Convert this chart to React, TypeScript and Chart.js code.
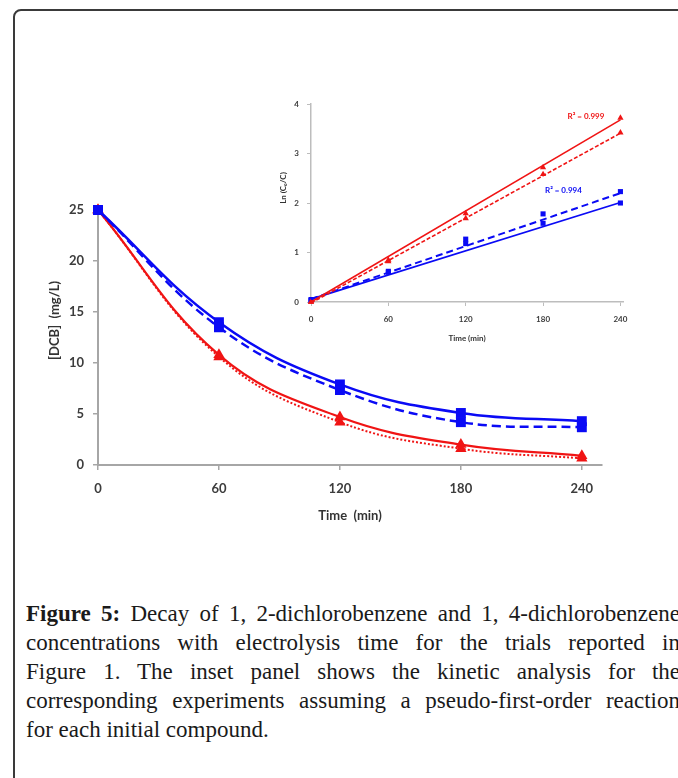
import React, { useEffect, useRef } from 'react';
import { Chart, registerables } from 'chart.js';

Chart.register(...registerables);

// ---------- DATA ----------
const timeMin = [0, 60, 120, 180, 240];
const mainXTicks = [0, 60, 120, 180, 240];

// Main panel: [DCB] (mg/L)
const blueSolidConc = [25, 14.0, 7.9, 5.1, 4.3];
const blueDashedConc = [25, 13.5, 7.35, 4.2, 3.7];
const redSolidConc = [25, 10.8, 4.7, 2.0, 0.9];
const redDottedConc = [25, 10.6, 4.2, 1.6, 0.65];

// Inset panel: Ln(C0/C)
const insetXTicks = [0, 60, 120, 180, 240];
const redLnA = [0, 0.85, 1.79, 2.72, 3.72];
const redLnB = [0, 0.82, 1.69, 2.58, 3.42];
const blueLnA = [0.05, 0.6, 1.18, 1.59, 2.0];
const blueLnB = [0.03, 0.62, 1.27, 1.78, 2.23];

// Linear fits (start / end of each regression line)
const fitTimes = [0, 240];
const fitRedSolid = [0, 3.68];
const fitRedDotted = [-0.02, 3.41];
const fitBlueSolid = [0.06, 2.01];
const fitBlueDashed = [0.06, 2.2];

const r2Texts = ['R\u00B2 = 0.999', 'R\u00B2 = 0.994'];

const captionLines = [
  'Decay of 1, 2-dichlorobenzene and 1, 4-dichlorobenzene',
  'concentrations with electrolysis time for the trials reported in',
  'Figure 1. The inset panel shows the kinetic analysis for the',
  'corresponding experiments assuming a pseudo-first-order reaction',
  'for each initial compound.',
];

// ---------- STYLE ----------
const BLUE = '#0a0af5';
const RED = '#f01414';
const AXIS = '#a6a6a6';
const TICK_TXT = '#3c3c3c';
const FONT = 'Lato';

const pts = (xs: number[], ys: number[]) => xs.map((x, i) => ({ x, y: ys[i] }));

const extraText = {
  id: 'extraText',
  afterDraw(chart: any, _a: any, opts: any) {
    const { ctx, chartArea, scales } = chart;
    if (opts.yTitle) {
      const t = opts.yTitle;
      ctx.save();
      ctx.font = t.font;
      ctx.fillStyle = t.color;
      ctx.textAlign = 'center';
      ctx.textBaseline = 'middle';
      ctx.translate(t.x, (chartArea.top + chartArea.bottom) / 2 + t.dy);
      ctx.rotate(-Math.PI / 2);
      ctx.fillText(t.text, 0, 0);
      ctx.restore();
    }
    (opts.labels || []).forEach((l: any) => {
      ctx.save();
      ctx.font = l.font;
      ctx.fillStyle = l.color;
      ctx.textAlign = 'left';
      ctx.textBaseline = 'middle';
      ctx.fillText(l.text, scales.x.getPixelForValue(l.x), scales.y.getPixelForValue(l.y));
      ctx.restore();
    });
  },
};

function MainChart() {
  const ref = useRef<HTMLCanvasElement>(null);
  useEffect(() => {
    const lineDs = (data: number[], color: string, dash: number[], style: string, r: number, w: number) => ({
      data: pts(timeMin, data),
      borderColor: color,
      backgroundColor: color,
      borderWidth: w,
      borderDash: dash,
      tension: 0.4,
      pointStyle: style,
      pointRadius: r,
      pointBorderWidth: 0,
      pointBackgroundColor: color,
      clip: false,
    });
    const chart = new Chart(ref.current!, {
      type: 'line',
      data: {
        datasets: [
          lineDs(blueSolidConc, BLUE, [], 'rect', 7, 2.5),
          lineDs(blueDashedConc, BLUE, [9, 5], 'rect', 7, 2.5),
          lineDs(redSolidConc, RED, [], 'triangle', 6.5, 2.2),
          lineDs(redDottedConc, RED, [2, 2], 'triangle', 6.5, 2),
        ] as any,
      },
      plugins: [extraText],
      options: {
        responsive: false,
        animation: false,
        layout: { padding: { left: 0, top: 60, right: 76, bottom: 26 } },
        plugins: {
          legend: { display: false },
          tooltip: { enabled: false },
          extraText: {
            yTitle: { text: '[DCB]  (mg/L)', font: `bold 13px ${FONT}`, color: '#333', x: 55, dy: -17 },
          },
        } as any,
        scales: {
          x: {
            type: 'linear',
            min: 0,
            max: 250,
            afterFit: (s: any) => { s.height = 59; },
            afterBuildTicks: (s: any) => { s.ticks = mainXTicks.map((v) => ({ value: v })); },
            grid: { display: true, drawOnChartArea: false, drawTicks: true, tickLength: 5, color: AXIS, lineWidth: 1.5 },
            border: { display: true, color: AXIS, width: 2 },
            ticks: { padding: 11, color: TICK_TXT, font: { family: FONT, size: 13, weight: 'bold' } },
            title: { display: true, text: 'Time  (min)', color: '#333', padding: 0, font: { family: FONT, size: 13, weight: 'bold' } },
          },
          y: {
            type: 'linear',
            min: 0,
            max: 25,
            afterFit: (s: any) => { s.width = 98; },
            grid: { display: true, drawOnChartArea: false, drawTicks: true, tickLength: 5, color: AXIS, lineWidth: 1.5 },
            border: { display: true, color: AXIS, width: 2 },
            ticks: { stepSize: 5, padding: 9, color: TICK_TXT, font: { family: FONT, size: 13, weight: 'bold' } },
          },
        } as any,
      },
    });
    return () => chart.destroy();
  }, []);
  return <canvas ref={ref} width={678} height={400} style={{ width: 678, height: 400, display: 'block' }} />;
}

function InsetChart() {
  const ref = useRef<HTMLCanvasElement>(null);
  useEffect(() => {
    const scatter = (data: number[], color: string, style: string) => ({
      data: pts(timeMin, data),
      showLine: false,
      borderColor: color,
      backgroundColor: color,
      pointStyle: style,
      pointRadius: 3.6,
      pointBorderWidth: 0,
      pointBackgroundColor: color,
      clip: false,
    });
    const fit = (data: number[], color: string, dash: number[], w: number) => ({
      data: pts(fitTimes, data),
      borderColor: color,
      borderWidth: w,
      borderDash: dash,
      pointRadius: 0,
      tension: 0,
      clip: false,
    });
    const chart = new Chart(ref.current!, {
      type: 'line',
      data: {
        datasets: [
          fit(fitRedSolid, RED, [], 1.6),
          fit(fitRedDotted, RED, [4, 2], 1.6),
          fit(fitBlueSolid, BLUE, [], 1.8),
          fit(fitBlueDashed, BLUE, [7, 4], 2),
          scatter(redLnA, RED, 'triangle'),
          scatter(redLnB, RED, 'triangle'),
          scatter(blueLnA, BLUE, 'rect'),
          scatter(blueLnB, BLUE, 'rect'),
        ] as any,
      },
      plugins: [extraText],
      options: {
        responsive: false,
        animation: false,
        layout: { padding: { left: 0, top: 19, right: 37, bottom: 12 } },
        plugins: {
          legend: { display: false },
          tooltip: { enabled: false },
          extraText: {
            yTitle: { text: 'Ln (C\u2080/C)', font: `bold 8px ${FONT}`, color: '#333', x: 33, dy: -15 },
            labels: [
              { text: r2Texts[0], x: 199, y: 3.74, color: RED, font: `bold 8px ${FONT}` },
              { text: r2Texts[1], x: 181.5, y: 2.26, color: BLUE, font: `bold 8px ${FONT}` },
            ],
          },
        } as any,
        scales: {
          x: {
            type: 'linear',
            min: 0,
            max: 242,
            afterFit: (s: any) => { s.height = 41; },
            afterBuildTicks: (s: any) => { s.ticks = insetXTicks.map((v) => ({ value: v })); },
            grid: { display: true, drawOnChartArea: false, drawTicks: true, tickLength: 4, color: '#bdbdbd', lineWidth: 1 },
            border: { display: true, color: '#bdbdbd', width: 1.5 },
            ticks: { padding: 9, color: TICK_TXT, font: { family: FONT, size: 8, weight: 'bold' } },
            title: { display: true, text: 'Time (min)', color: '#333', padding: 0, font: { family: FONT, size: 8, weight: 'bold' } },
          },
          y: {
            type: 'linear',
            min: 0,
            max: 4,
            afterFit: (s: any) => { s.width = 61; },
            grid: { display: true, drawOnChartArea: false, drawTicks: true, tickLength: 4, color: '#bdbdbd', lineWidth: 1 },
            border: { display: true, color: '#bdbdbd', width: 1.5 },
            ticks: { stepSize: 1, padding: 8, color: TICK_TXT, font: { family: FONT, size: 8, weight: 'bold' } },
          },
        } as any,
      },
    });
    return () => chart.destroy();
  }, []);
  return <canvas ref={ref} width={410} height={270} style={{ width: 410, height: 270, display: 'block' }} />;
}

export default function App() {
  return (
    <div style={{ position: 'fixed', left: 0, top: 0, width: 678, height: 778, background: '#fff', overflow: 'hidden' }}>
      <div
        style={{
          position: 'absolute',
          left: 13,
          top: 9,
          width: 720,
          height: 820,
          border: '2px solid #3a3a3a',
          borderRadius: 8,
          boxSizing: 'border-box',
        }}
      />
      <div style={{ position: 'absolute', left: 0, top: 150 }}>
        <MainChart />
      </div>
      <div style={{ position: 'absolute', left: 250, top: 85 }}>
        <InsetChart />
      </div>
      <div
        style={{
          position: 'absolute',
          left: 26,
          top: 599,
          width: 654,
          fontFamily: '"Liberation Serif", serif',
          fontSize: 23,
          lineHeight: '29px',
          color: '#1a1a1a',
        }}
      >
        {captionLines.map((line, i) => {
          const last = i === captionLines.length - 1;
          return (
            <div
              key={i}
              style={{ textAlign: last ? 'left' : 'justify', textAlignLast: last ? 'left' : 'justify', whiteSpace: 'nowrap' } as any}
            >
              {i === 0 ? <b>Figure 5: </b> : null}
              {line}
            </div>
          );
        })}
      </div>
    </div>
  );
}
